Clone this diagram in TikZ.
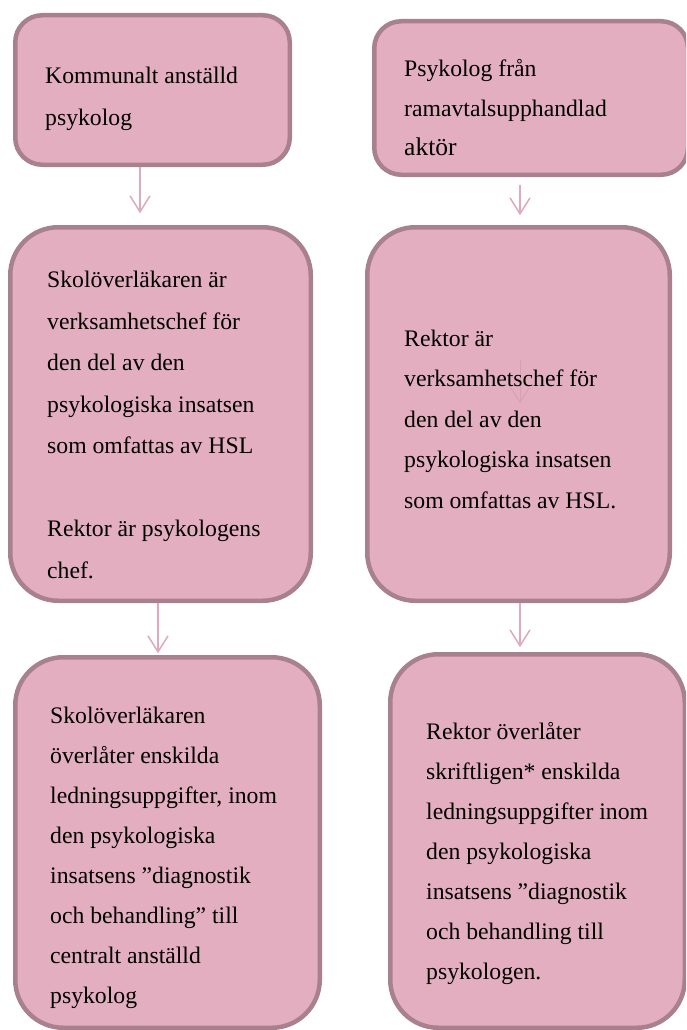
\documentclass[tikz,border=0pt]{standalone}
\usepackage{fontspec}
\setmainfont{Liberation Serif}
\usetikzlibrary{arrows.meta}
\definecolor{boxfill}{HTML}{E3AFC0}
\definecolor{boxline}{HTML}{A8808E}
\definecolor{arrcol}{HTML}{E0A9BD}
\definecolor{ghostcol}{HTML}{D5A2B4}
\begin{document}
\begin{tikzpicture}[x=1pt,y=-1pt,
  box/.style={rectangle, draw=boxline, fill=boxfill, line width=4.5pt, rounded corners=#1, inner sep=0pt, outer sep=0pt, anchor=north west},
  txt/.style={anchor=base west, align=left, inner sep=0pt, font=\fontsize{23.7}{#1}\selectfont},
  arr/.style={draw=arrcol, line width=1.5pt, -{Straight Barb[length=16pt,width=20pt]}},
  ghostarr/.style={draw=ghostcol, line width=1pt, -{Straight Barb[length=14pt,width=18pt]}}]
\useasboundingbox (0,0) rectangle (686,1030);
\clip (0,0) rectangle (686,1030);
% column guides
\coordinate (xa) at (140,0);
\coordinate (xb) at (520,0);
\coordinate (xc) at (158,0);
% boxes
\node[box=27pt, minimum width=274.5pt, minimum height=149.5pt] (b1) at (15.25,15.25) {};
\node[box=27pt, minimum width=313.75pt, minimum height=153.5pt] (b2) at (374.25,21.25) {};
\node[box=48pt, minimum width=300.5pt, minimum height=373.5pt] (b3) at (10.25,227.25) {};
\node[box=48pt, minimum width=302.5pt, minimum height=373.5pt] (b4) at (367.25,227.25) {};
\node[box=48pt, minimum width=304.5pt, minimum height=370.5pt] (b5) at (15.25,657.25) {};
\node[box=48pt, minimum width=294.5pt, minimum height=373.5pt] (b6) at (390.25,654.25) {};
% connectors
\draw[arr, shorten <=2pt, shorten >=14pt] (b1.south -| xa) -- (b3.north -| xa);
\draw[arr, shorten <=10pt, shorten >=12pt] (b2.south -| xb) -- (b4.north -| xb);
\draw[arr, shorten <=2pt, shorten >=4pt] (b3.south -| xc) -- (b5.north -| xc);
\draw[arr, shorten <=2pt, shorten >=7pt] (b4.south -| xb) -- (b6.north -| xb);
% faint arrow inside the right middle box
\coordinate (g1) at (520,360);
\coordinate (g2) at (520,403);
\draw[ghostarr] (g1) -- (g2);
% texts (anchored at the baseline of their last line)
\node[txt=42] (t1) at (45,125) {Kommunalt anställd\\psykolog};
\node[txt=39] (t2) at (404,155) {Psykolog från\\ramavtalsupphandlad\\{\fontsize{25.5}{39}\selectfont aktör}};
\node[txt=41.5] (t3) at (47,578) {Skolöverläkaren är\\verksamhetschef för\\den del av den\\psykologiska insatsen\\som omfattas av HSL\\[41.5pt]Rektor är psykologens\\chef.};
\node[txt=40.5] (t4) at (404,508) {Rektor är\\verksamhetschef för\\den del av den\\psykologiska insatsen\\som omfattas av HSL.};
\node[txt=40] (t5) at (50,1003) {Skolöverläkaren\\överlåter enskilda\\ledningsuppgifter, inom\\den psykologiska\\insatsens ”diagnostik\\och behandling” till\\centralt anställd\\psykolog};
\node[txt=40] (t6) at (426,979) {Rektor överlåter\\skriftligen* enskilda\\ledningsuppgifter inom\\den psykologiska\\insatsens ”diagnostik\\och behandling till\\psykologen.};
\end{tikzpicture}
\end{document}
